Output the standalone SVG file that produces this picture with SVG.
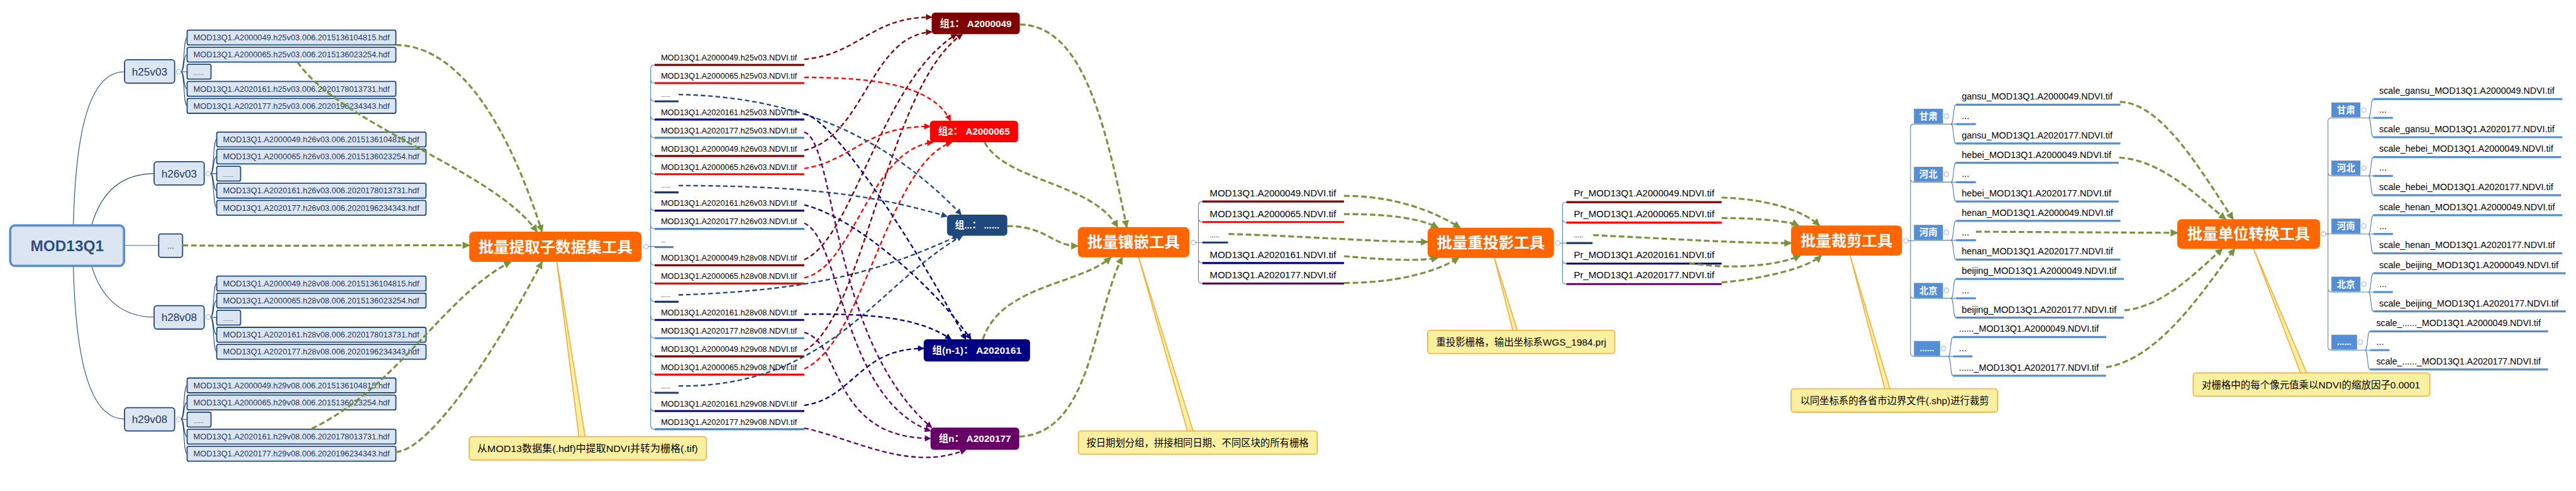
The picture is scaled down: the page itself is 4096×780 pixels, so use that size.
<svg xmlns="http://www.w3.org/2000/svg" width="4096" height="780" viewBox="0 0 4096 780">
<defs>
<style>
.fb{fill:#dce6f2;stroke:#1f497d;stroke-width:2}
.ft{font-family:"Liberation Sans",Arial,sans-serif;font-size:14px;fill:#1f3864}
.nt{font-family:"Liberation Sans",Arial,sans-serif;font-size:19px;fill:#1f3864;text-anchor:middle}
.tool{fill:#ff6600}
.tt{font-family:"Noto Sans CJK SC",sans-serif;font-weight:bold;font-size:27px;fill:#fff;text-anchor:middle}
.call{fill:#fbf0a0;stroke:#f0b44c;stroke-width:2}
.ct{font-family:"Liberation Sans","Noto Sans CJK SC",sans-serif;font-size:17px;fill:#000}
.g{fill:none;stroke:#77933c;stroke-width:3.5;stroke-dasharray:10 5;marker-end:url(#ag)}
.lt{font-family:"Liberation Sans",Arial,sans-serif;font-size:14px;fill:#000}
.lt2{font-family:"Liberation Sans",Arial,sans-serif;font-size:16px;fill:#000}
.pb{fill:#558ed5}
.pt{font-family:"Noto Sans CJK SC",sans-serif;font-weight:bold;font-size:16px;fill:#fff;text-anchor:middle}
.gt{font-family:"Liberation Sans","Noto Sans CJK SC",sans-serif;font-weight:bold;font-size:17px;fill:#fff;text-anchor:middle}
.br{fill:none;stroke:#4f81bd;stroke-width:1.2}
.tl{fill:none;stroke:#1f497d;stroke-width:1.2}
.cc{fill:#fff;stroke:#9db3d9;stroke-width:1.2}
.u{stroke-width:3.5;fill:none}
.dr{stroke:#7f0000}.rd{stroke:#ff0000}.db{stroke:#1f3864}.nv{stroke:#000080}.lb{stroke:#4f81bd}.pu{stroke:#660066}.pbu{stroke:#558ed5}
.c{fill:none;stroke-width:2.6;stroke-dasharray:8 5}
</style>
<marker id="ag" viewBox="0 0 10 10" refX="9" refY="5" markerWidth="15" markerHeight="13" markerUnits="userSpaceOnUse" orient="auto"><path d="M0,0 L10,5 L0,10 z" fill="#77933c"/></marker>
<marker id="adr" viewBox="0 0 10 10" refX="9" refY="5" markerWidth="12" markerHeight="11" markerUnits="userSpaceOnUse" orient="auto"><path d="M0,0 L10,5 L0,10 z" fill="#7f0000"/></marker>
<marker id="ard" viewBox="0 0 10 10" refX="9" refY="5" markerWidth="12" markerHeight="11" markerUnits="userSpaceOnUse" orient="auto"><path d="M0,0 L10,5 L0,10 z" fill="#ff0000"/></marker>
<marker id="adb" viewBox="0 0 10 10" refX="9" refY="5" markerWidth="12" markerHeight="11" markerUnits="userSpaceOnUse" orient="auto"><path d="M0,0 L10,5 L0,10 z" fill="#1f497d"/></marker>
<marker id="anv" viewBox="0 0 10 10" refX="9" refY="5" markerWidth="12" markerHeight="11" markerUnits="userSpaceOnUse" orient="auto"><path d="M0,0 L10,5 L0,10 z" fill="#000080"/></marker>
<marker id="apu" viewBox="0 0 10 10" refX="9" refY="5" markerWidth="12" markerHeight="11" markerUnits="userSpaceOnUse" orient="auto"><path d="M0,0 L10,5 L0,10 z" fill="#660066"/></marker>
</defs>
<rect width="4096" height="780" fill="#fff"/>
<g transform="scale(0.90439)">

<!-- tree lines left -->
<g id="tree-left">
<path class="tl" d="M129,396 C133,220 160,126 219,126"/>
<path class="tl" d="M161,396 C180,330 220,305 271,305"/>
<path class="tl" d="M218,431 L279,431" style="stroke:#8eaadb;stroke-width:2"/>
<path class="tl" d="M161,467 C180,530 220,557 271,557"/>
<path class="tl" d="M129,467 C133,640 160,736 219,736"/>
<path class="tl" d="M318,126 C325,126 322,66 329,66 M318,126 C325,126 322,96 329,96 M318,126 L329,126 M318,126 C325,126 322,156 329,156 M318,126 C325,126 322,186 329,186"/>
<path class="tl" d="M370,305 C377,305 374,245 381,245 M370,305 C377,305 374,275 381,275 M370,305 L381,305 M370,305 C377,305 374,335 381,335 M370,305 C377,305 374,365 381,365"/>
<path class="tl" d="M370,557 C377,557 374,498 381,498 M370,557 C377,557 374,528 381,528 M370,557 L381,558 M370,557 C377,557 374,588 381,588 M370,557 C377,557 374,618 381,618"/>
<path class="tl" d="M318,736 C325,736 322,677 329,677 M318,736 C325,736 322,707 329,707 M318,736 L329,737 M318,736 C325,736 322,767 329,767 M318,736 C325,736 322,797 329,797"/>
<circle class="cc" cx="314" cy="126" r="4"/><circle class="cc" cx="366" cy="305" r="4"/><circle class="cc" cx="366" cy="557" r="4"/><circle class="cc" cx="314" cy="736" r="4"/>
</g>

<g id="root">
<rect x="18" y="396" width="200" height="71" rx="8" fill="#dce6f2" stroke="#5b8ed6" stroke-width="4"/>
<text x="118" y="441" font-family="Liberation Sans,Arial,sans-serif" font-weight="bold" font-size="27" fill="#2f4f7f" text-anchor="middle">MOD13Q1</text>
</g>
<g id="n-etc"><rect class="fb" x="279" y="411" width="42" height="41" rx="4"/><text x="300" y="437" class="nt" style="font-size:14px">...</text></g>

<g id="n-h25v03">
<rect class="fb" x="219" y="105" width="88" height="41" rx="5"/><text class="nt" x="263" y="133">h25v03</text>
<rect class="fb" x="329" y="53" width="367" height="26" rx="3"/><text class="ft" x="340" y="71" textLength="345" lengthAdjust="spacingAndGlyphs">MOD13Q1.A2000049.h25v03.006.2015136104815.hdf</text>
<rect class="fb" x="329" y="83" width="367" height="26" rx="3"/><text class="ft" x="340" y="101" textLength="345" lengthAdjust="spacingAndGlyphs">MOD13Q1.A2000065.h25v03.006.2015136023254.hdf</text>
<rect class="fb" x="329" y="113" width="42" height="26" rx="3"/><text class="ft" x="340" y="132" style="font-size:11px">......</text>
<rect class="fb" x="329" y="143" width="367" height="26" rx="3"/><text class="ft" x="340" y="161" textLength="345" lengthAdjust="spacingAndGlyphs">MOD13Q1.A2020161.h25v03.006.2020178013731.hdf</text>
<rect class="fb" x="329" y="173" width="367" height="26" rx="3"/><text class="ft" x="340" y="191" textLength="345" lengthAdjust="spacingAndGlyphs">MOD13Q1.A2020177.h25v03.006.2020196234343.hdf</text>
</g>
<g id="n-h26v03">
<rect class="fb" x="271" y="284" width="88" height="41" rx="5"/><text class="nt" x="315" y="312">h26v03</text>
<rect class="fb" x="381" y="232" width="368" height="26" rx="3"/><text class="ft" x="392" y="250" textLength="345" lengthAdjust="spacingAndGlyphs">MOD13Q1.A2000049.h26v03.006.2015136104815.hdf</text>
<rect class="fb" x="381" y="262" width="368" height="26" rx="3"/><text class="ft" x="392" y="280" textLength="345" lengthAdjust="spacingAndGlyphs">MOD13Q1.A2000065.h26v03.006.2015136023254.hdf</text>
<rect class="fb" x="381" y="292" width="42" height="26" rx="3"/><text class="ft" x="392" y="311" style="font-size:11px">......</text>
<rect class="fb" x="381" y="322" width="368" height="26" rx="3"/><text class="ft" x="392" y="340" textLength="345" lengthAdjust="spacingAndGlyphs">MOD13Q1.A2020161.h26v03.006.2020178013731.hdf</text>
<rect class="fb" x="381" y="352" width="368" height="26" rx="3"/><text class="ft" x="392" y="370" textLength="345" lengthAdjust="spacingAndGlyphs">MOD13Q1.A2020177.h26v03.006.2020196234343.hdf</text>
</g>
<g id="n-h28v08">
<rect class="fb" x="271" y="537" width="88" height="41" rx="5"/><text class="nt" x="315" y="564">h28v08</text>
<rect class="fb" x="381" y="485" width="368" height="26" rx="3"/><text class="ft" x="392" y="503" textLength="345" lengthAdjust="spacingAndGlyphs">MOD13Q1.A2000049.h28v08.006.2015136104815.hdf</text>
<rect class="fb" x="381" y="515" width="368" height="26" rx="3"/><text class="ft" x="392" y="533" textLength="345" lengthAdjust="spacingAndGlyphs">MOD13Q1.A2000065.h28v08.006.2015136023254.hdf</text>
<rect class="fb" x="381" y="545" width="42" height="26" rx="3"/><text class="ft" x="392" y="564" style="font-size:11px">......</text>
<rect class="fb" x="381" y="575" width="368" height="26" rx="3"/><text class="ft" x="392" y="593" textLength="345" lengthAdjust="spacingAndGlyphs">MOD13Q1.A2020161.h28v08.006.2020178013731.hdf</text>
<rect class="fb" x="381" y="605" width="368" height="26" rx="3"/><text class="ft" x="392" y="623" textLength="345" lengthAdjust="spacingAndGlyphs">MOD13Q1.A2020177.h28v08.006.2020196234343.hdf</text>
</g>
<g id="n-h29v08">
<rect class="fb" x="219" y="716" width="88" height="41" rx="5"/><text class="nt" x="263" y="743">h29v08</text>
<rect class="fb" x="329" y="664" width="367" height="26" rx="3"/><text class="ft" x="340" y="682" textLength="345" lengthAdjust="spacingAndGlyphs">MOD13Q1.A2000049.h29v08.006.2015136104815.hdf</text>
<rect class="fb" x="329" y="694" width="367" height="26" rx="3"/><text class="ft" x="340" y="712" textLength="345" lengthAdjust="spacingAndGlyphs">MOD13Q1.A2000065.h29v08.006.2015136023254.hdf</text>
<rect class="fb" x="329" y="724" width="42" height="26" rx="3"/><text class="ft" x="340" y="743" style="font-size:11px">......</text>
<rect class="fb" x="329" y="754" width="367" height="26" rx="3"/><text class="ft" x="340" y="772" textLength="345" lengthAdjust="spacingAndGlyphs">MOD13Q1.A2020161.h29v08.006.2020178013731.hdf</text>
<rect class="fb" x="329" y="784" width="367" height="26" rx="3"/><text class="ft" x="340" y="802" textLength="345" lengthAdjust="spacingAndGlyphs">MOD13Q1.A2020177.h29v08.006.2020196234343.hdf</text>
</g>

<!-- callout pointers -->
<g id="pointers">
<polygon class="call" points="978,452 1018,768 1029,768"/>
<polygon class="call" points="2000,445 2088,758 2098,758"/>
<polygon class="call" points="2626,448 2660,581 2668,581"/>
<polygon class="call" points="3252,446 3314,684 3323,684"/>
<polygon class="call" points="3961,434 4045,656 4056,656"/>
</g>

<g id="tool1">
<rect class="tool" x="825" y="407" width="303" height="53" rx="8"/>
<text class="tt" x="976.5" y="443" textLength="271" lengthAdjust="spacingAndGlyphs">批量提取子数据集工具</text>
</g>
<g id="note1"><rect class="call" x="825" y="767" width="417" height="41" rx="5"/><text class="ct" x="839" y="794" textLength="388" lengthAdjust="spacingAndGlyphs">从MOD13数据集(.hdf)中提取NDVI并转为栅格(.tif)</text></g>

<g id="list1">
<circle class="cc" cx="1136" cy="433" r="4"/>
<path class="br" d="M1140,433 L1151,433 M1151,114 Q1144,114 1144,121 L1144,747 Q1144,754 1151,754"/>
<path class="br" d="M1144,139 Q1144,146 1151,146 M1144,171 Q1144,178 1151,178 M1144,203 Q1144,210 1151,210 M1144,235 Q1144,242 1151,242 M1144,267 Q1144,274 1151,274 M1144,299 Q1144,306 1151,306 M1144,331 Q1144,338 1151,338 M1144,363 Q1144,370 1151,370 M1144,395 Q1144,402 1151,402 M1144,459 Q1144,466 1151,466 M1144,491 Q1144,498 1151,498 M1144,523 Q1144,530 1151,530 M1144,555 Q1144,562 1151,562 M1144,587 Q1144,594 1151,594 M1144,619 Q1144,626 1151,626 M1144,651 Q1144,658 1151,658 M1144,683 Q1144,690 1151,690 M1144,715 Q1144,722 1151,722"/>
<text class="lt" x="1162" y="106" textLength="239" lengthAdjust="spacingAndGlyphs">MOD13Q1.A2000049.h25v03.NDVI.tif</text><line class="u dr" x1="1151" y1="114" x2="1414" y2="114"/>
<text class="lt" x="1162" y="138" textLength="239" lengthAdjust="spacingAndGlyphs">MOD13Q1.A2000065.h25v03.NDVI.tif</text><line class="u rd" x1="1151" y1="146" x2="1414" y2="146"/>
<text class="lt" x="1162" y="170" style="font-size:10px">......</text><line class="u db" x1="1151" y1="178" x2="1193" y2="178"/>
<text class="lt" x="1162" y="202" textLength="239" lengthAdjust="spacingAndGlyphs">MOD13Q1.A2020161.h25v03.NDVI.tif</text><line class="u nv" x1="1151" y1="210" x2="1414" y2="210"/>
<text class="lt" x="1162" y="234" textLength="239" lengthAdjust="spacingAndGlyphs">MOD13Q1.A2020177.h25v03.NDVI.tif</text><line class="u lb" x1="1151" y1="242" x2="1414" y2="242"/>
<text class="lt" x="1162" y="266" textLength="239" lengthAdjust="spacingAndGlyphs">MOD13Q1.A2000049.h26v03.NDVI.tif</text><line class="u dr" x1="1151" y1="274" x2="1414" y2="274"/>
<text class="lt" x="1162" y="298" textLength="239" lengthAdjust="spacingAndGlyphs">MOD13Q1.A2000065.h26v03.NDVI.tif</text><line class="u rd" x1="1151" y1="306" x2="1414" y2="306"/>
<text class="lt" x="1162" y="330" style="font-size:10px">......</text><line class="u db" x1="1151" y1="338" x2="1193" y2="338"/>
<text class="lt" x="1162" y="362" textLength="239" lengthAdjust="spacingAndGlyphs">MOD13Q1.A2020161.h26v03.NDVI.tif</text><line class="u nv" x1="1151" y1="370" x2="1414" y2="370"/>
<text class="lt" x="1162" y="394" textLength="239" lengthAdjust="spacingAndGlyphs">MOD13Q1.A2020177.h26v03.NDVI.tif</text><line class="u lb" x1="1151" y1="402" x2="1414" y2="402"/>
<text class="lt" x="1162" y="426" style="font-size:10px">...</text><line class="u lb" x1="1151" y1="434" x2="1184" y2="434"/>
<text class="lt" x="1162" y="458" textLength="239" lengthAdjust="spacingAndGlyphs">MOD13Q1.A2000049.h28v08.NDVI.tif</text><line class="u dr" x1="1151" y1="466" x2="1414" y2="466"/>
<text class="lt" x="1162" y="490" textLength="239" lengthAdjust="spacingAndGlyphs">MOD13Q1.A2000065.h28v08.NDVI.tif</text><line class="u rd" x1="1151" y1="498" x2="1414" y2="498"/>
<text class="lt" x="1162" y="522" style="font-size:10px">......</text><line class="u db" x1="1151" y1="530" x2="1193" y2="530"/>
<text class="lt" x="1162" y="554" textLength="239" lengthAdjust="spacingAndGlyphs">MOD13Q1.A2020161.h28v08.NDVI.tif</text><line class="u nv" x1="1151" y1="562" x2="1414" y2="562"/>
<text class="lt" x="1162" y="586" textLength="239" lengthAdjust="spacingAndGlyphs">MOD13Q1.A2020177.h28v08.NDVI.tif</text><line class="u lb" x1="1151" y1="594" x2="1414" y2="594"/>
<text class="lt" x="1162" y="618" textLength="239" lengthAdjust="spacingAndGlyphs">MOD13Q1.A2000049.h29v08.NDVI.tif</text><line class="u dr" x1="1151" y1="626" x2="1414" y2="626"/>
<text class="lt" x="1162" y="650" textLength="239" lengthAdjust="spacingAndGlyphs">MOD13Q1.A2000065.h29v08.NDVI.tif</text><line class="u rd" x1="1151" y1="658" x2="1414" y2="658"/>
<text class="lt" x="1162" y="682" style="font-size:10px">......</text><line class="u db" x1="1151" y1="690" x2="1193" y2="690"/>
<text class="lt" x="1162" y="714" textLength="239" lengthAdjust="spacingAndGlyphs">MOD13Q1.A2020161.h29v08.NDVI.tif</text><line class="u nv" x1="1151" y1="722" x2="1414" y2="722"/>
<text class="lt" x="1162" y="746" textLength="239" lengthAdjust="spacingAndGlyphs">MOD13Q1.A2020177.h29v08.NDVI.tif</text><line class="u lb" x1="1151" y1="754" x2="1414" y2="754"/>
</g>

<g id="grp1"><rect x="1638" y="22" width="155" height="38" rx="6" fill="#7f0000"/><text class="gt" x="1715.5" y="47" textLength="126" lengthAdjust="spacingAndGlyphs">组1： A2000049</text></g>
<g id="grp2"><rect x="1635" y="212" width="155" height="38" rx="6" fill="#ff0000"/><text class="gt" x="1712.5" y="237" textLength="126" lengthAdjust="spacingAndGlyphs">组2： A2000065</text></g>
<g id="grp3"><rect x="1665" y="377" width="106" height="37" rx="6" fill="#1f497d"/><text class="gt" x="1718" y="401" textLength="78" lengthAdjust="spacingAndGlyphs">组...： ......</text></g>
<g id="grp4"><rect x="1624" y="596" width="187" height="39" rx="6" fill="#000080"/><text class="gt" x="1717.5" y="621" textLength="157" lengthAdjust="spacingAndGlyphs">组(n-1)： A2020161</text></g>
<g id="grp5"><rect x="1636" y="751" width="156" height="39" rx="6" fill="#660066"/><text class="gt" x="1714" y="776" textLength="127" lengthAdjust="spacingAndGlyphs">组n： A2020177</text></g>

<g id="tool2">
<rect class="tool" x="1895" y="399" width="196" height="53" rx="8"/>
<text class="tt" x="1993" y="435" textLength="163" lengthAdjust="spacingAndGlyphs">批量镶嵌工具</text>
</g>
<g id="note2"><rect class="call" x="1896" y="757" width="420" height="41" rx="5"/><text class="ct" x="1910" y="784" textLength="391" lengthAdjust="spacingAndGlyphs">按日期划分组，拼接相同日期、不同区块的所有栅格</text></g>
<g id="list2">
<circle class="cc" cx="2098" cy="426" r="4"/>
<path class="br" d="M2102,426 L2114,426 M2114,354 Q2107,354 2107,361 L2107,491 Q2107,498 2114,498 M2107,383 Q2107,390 2114,390 M2107,455 Q2107,462 2114,462"/>
<text class="lt2" x="2127" y="345" textLength="222" lengthAdjust="spacingAndGlyphs">MOD13Q1.A2000049.NDVI.tif</text><line class="u dr" x1="2114" y1="354" x2="2363" y2="354"/>
<text class="lt2" x="2127" y="381" textLength="222" lengthAdjust="spacingAndGlyphs">MOD13Q1.A2000065.NDVI.tif</text><line class="u rd" x1="2114" y1="390" x2="2363" y2="390"/>
<text class="lt2" x="2127" y="417" style="font-size:12px">.....</text><line class="u db" x1="2114" y1="426" x2="2159" y2="426"/>
<text class="lt2" x="2127" y="453" textLength="222" lengthAdjust="spacingAndGlyphs">MOD13Q1.A2020161.NDVI.tif</text><line class="u nv" x1="2114" y1="462" x2="2363" y2="462"/>
<text class="lt2" x="2127" y="489" textLength="222" lengthAdjust="spacingAndGlyphs">MOD13Q1.A2020177.NDVI.tif</text><line class="u pu" x1="2114" y1="498" x2="2363" y2="498"/>
</g>

<g id="tool3">
<rect class="tool" x="2510" y="400" width="222" height="53" rx="8"/>
<text class="tt" x="2621" y="436" textLength="190" lengthAdjust="spacingAndGlyphs">批量重投影工具</text>
</g>
<g id="note3"><rect class="call" x="2510" y="580" width="329" height="41" rx="5"/><text class="ct" x="2525" y="607" textLength="299" lengthAdjust="spacingAndGlyphs">重投影栅格，输出坐标系WGS_1984.prj</text></g>
<g id="list3">
<circle class="cc" cx="2739" cy="427" r="4"/>
<path class="br" d="M2743,427 L2754,427 M2754,355 Q2747,355 2747,362 L2747,492 Q2747,499 2754,499 M2747,384 Q2747,391 2754,391 M2747,456 Q2747,463 2754,463"/>
<text class="lt2" x="2767" y="345" textLength="247" lengthAdjust="spacingAndGlyphs">Pr_MOD13Q1.A2000049.NDVI.tif</text><line class="u dr" x1="2754" y1="355" x2="3027" y2="355"/>
<text class="lt2" x="2767" y="381" textLength="247" lengthAdjust="spacingAndGlyphs">Pr_MOD13Q1.A2000065.NDVI.tif</text><line class="u rd" x1="2754" y1="391" x2="3027" y2="391"/>
<text class="lt2" x="2767" y="417" style="font-size:12px">.....</text><line class="u db" x1="2754" y1="427" x2="2800" y2="427"/>
<text class="lt2" x="2767" y="453" textLength="247" lengthAdjust="spacingAndGlyphs">Pr_MOD13Q1.A2020161.NDVI.tif</text><line class="u nv" x1="2754" y1="463" x2="3027" y2="463"/>
<text class="lt2" x="2767" y="489" textLength="247" lengthAdjust="spacingAndGlyphs">Pr_MOD13Q1.A2020177.NDVI.tif</text><line class="u pu" x1="2754" y1="499" x2="3027" y2="499"/>
</g>

<g id="tool4">
<rect class="tool" x="3149" y="396" width="195" height="53" rx="8"/>
<text class="tt" x="3246.5" y="432" textLength="162" lengthAdjust="spacingAndGlyphs">批量裁剪工具</text>
</g>
<g id="note4"><rect class="call" x="3149" y="683" width="363" height="41" rx="5"/><text class="ct" x="3165" y="710" textLength="332" lengthAdjust="spacingAndGlyphs">以同坐标系的各省市边界文件(.shp)进行裁剪</text></g>
<g id="list4">
<circle class="cc" cx="3351" cy="423" r="4"/>
<path class="br" d="M3355,423 L3365,423 M3365,218 Q3359,218 3359,224 L3359,620 Q3359,626 3365,626 M3359,314 Q3359,320 3365,320 M3359,518 Q3359,524 3365,524"/>
<g id="p4-gansu">
<rect class="pb" x="3365" y="191" width="51" height="26"/><text class="pt" x="3390.5" y="210">甘肃</text>
<circle class="cc" cx="3422" cy="204" r="4"/>
<path class="br" d="M3365,218 L3439,218 M3430,218 C3436,218 3433,184 3439,184 M3430,218 C3436,218 3433,252 3439,252"/>
<text class="lt2" x="3449" y="175" textLength="265" lengthAdjust="spacingAndGlyphs">gansu_MOD13Q1.A2000049.NDVI.tif</text><line class="u pbu" x1="3439" y1="184" x2="3728" y2="184"/>
<text class="lt2" x="3449" y="209">...</text><line class="u pbu" x1="3439" y1="218" x2="3474" y2="218"/>
<text class="lt2" x="3449" y="243" textLength="265" lengthAdjust="spacingAndGlyphs">gansu_MOD13Q1.A2020177.NDVI.tif</text><line class="u pbu" x1="3439" y1="252" x2="3728" y2="252"/>
</g>
<g id="p4-hebei">
<rect class="pb" x="3365" y="293" width="51" height="26"/><text class="pt" x="3390.5" y="312">河北</text>
<circle class="cc" cx="3422" cy="306" r="4"/>
<path class="br" d="M3365,320 L3439,320 M3430,320 C3436,320 3433,286 3439,286 M3430,320 C3436,320 3433,354 3439,354"/>
<text class="lt2" x="3449" y="277" textLength="263" lengthAdjust="spacingAndGlyphs">hebei_MOD13Q1.A2000049.NDVI.tif</text><line class="u pbu" x1="3439" y1="286" x2="3725" y2="286"/>
<text class="lt2" x="3449" y="311">...</text><line class="u pbu" x1="3439" y1="320" x2="3474" y2="320"/>
<text class="lt2" x="3449" y="345" textLength="263" lengthAdjust="spacingAndGlyphs">hebei_MOD13Q1.A2020177.NDVI.tif</text><line class="u pbu" x1="3439" y1="354" x2="3725" y2="354"/>
</g>
<g id="p4-henan">
<rect class="pb" x="3365" y="395" width="51" height="26"/><text class="pt" x="3390.5" y="414">河南</text>
<circle class="cc" cx="3422" cy="408" r="4"/>
<path class="br" d="M3365,422 L3439,422 M3430,422 C3436,422 3433,388 3439,388 M3430,422 C3436,422 3433,456 3439,456"/>
<text class="lt2" x="3449" y="379" textLength="266" lengthAdjust="spacingAndGlyphs">henan_MOD13Q1.A2000049.NDVI.tif</text><line class="u pbu" x1="3439" y1="388" x2="3728" y2="388"/>
<text class="lt2" x="3449" y="413">...</text><line class="u pbu" x1="3439" y1="422" x2="3474" y2="422"/>
<text class="lt2" x="3449" y="447" textLength="266" lengthAdjust="spacingAndGlyphs">henan_MOD13Q1.A2020177.NDVI.tif</text><line class="u pbu" x1="3439" y1="456" x2="3728" y2="456"/>
</g>
<g id="p4-beijing">
<rect class="pb" x="3365" y="497" width="51" height="26"/><text class="pt" x="3390.5" y="516">北京</text>
<circle class="cc" cx="3422" cy="510" r="4"/>
<path class="br" d="M3365,524 L3439,524 M3430,524 C3436,524 3433,490 3439,490 M3430,524 C3436,524 3433,558 3439,558"/>
<text class="lt2" x="3449" y="481" textLength="272" lengthAdjust="spacingAndGlyphs">beijing_MOD13Q1.A2000049.NDVI.tif</text><line class="u pbu" x1="3439" y1="490" x2="3734" y2="490"/>
<text class="lt2" x="3449" y="515">...</text><line class="u pbu" x1="3439" y1="524" x2="3474" y2="524"/>
<text class="lt2" x="3449" y="549" textLength="272" lengthAdjust="spacingAndGlyphs">beijing_MOD13Q1.A2020177.NDVI.tif</text><line class="u pbu" x1="3439" y1="558" x2="3734" y2="558"/>
</g>
<g id="p4-etc">
<rect class="pb" x="3365" y="599" width="46" height="26"/><text class="pt" x="3388" y="617" style="font-size:13px">......</text>
<circle class="cc" cx="3417" cy="612" r="4"/>
<path class="br" d="M3365,626 L3434,626 M3425,626 C3431,626 3428,592 3434,592 M3425,626 C3431,626 3428,660 3434,660"/>
<text class="lt2" x="3444" y="583" textLength="246" lengthAdjust="spacingAndGlyphs">......_MOD13Q1.A2000049.NDVI.tif</text><line class="u pbu" x1="3434" y1="592" x2="3703" y2="592"/>
<text class="lt2" x="3444" y="617">...</text><line class="u pbu" x1="3434" y1="626" x2="3468" y2="626"/>
<text class="lt2" x="3444" y="651" textLength="246" lengthAdjust="spacingAndGlyphs">......_MOD13Q1.A2020177.NDVI.tif</text><line class="u pbu" x1="3434" y1="660" x2="3703" y2="660"/>
</g>
</g>

<g id="tool5">
<rect class="tool" x="3828" y="385" width="251" height="52" rx="8"/>
<text class="tt" x="3953.5" y="420" textLength="216" lengthAdjust="spacingAndGlyphs">批量单位转换工具</text>
</g>
<g id="note5"><rect class="call" x="3856" y="655" width="416" height="41" rx="5"/><text class="ct" x="3871" y="682" textLength="384" lengthAdjust="spacingAndGlyphs">对栅格中的每个像元值乘以NDVI的缩放因子0.0001</text></g>
<g id="list5">
<circle class="cc" cx="4085" cy="411" r="4"/>
<path class="br" d="M4089,411 L4099,411 M4099,207 Q4093,207 4093,213 L4093,609 Q4093,615 4099,615 M4093,303 Q4093,309 4099,309 M4093,507 Q4093,513 4099,513"/>
<g id="p5-gansu">
<rect class="pb" x="4099" y="180" width="51" height="26"/><text class="pt" x="4124.5" y="199">甘肃</text>
<circle class="cc" cx="4156" cy="193" r="4"/>
<path class="br" d="M4099,207 L4173,207 M4164,207 C4170,207 4167,174 4173,174 M4164,207 C4170,207 4167,241 4173,241"/>
<text class="lt2" x="4183" y="165" textLength="308" lengthAdjust="spacingAndGlyphs">scale_gansu_MOD13Q1.A2000049.NDVI.tif</text><line class="u pbu" x1="4173" y1="174" x2="4505" y2="174"/>
<text class="lt2" x="4183" y="198">...</text><line class="u pbu" x1="4173" y1="207" x2="4207" y2="207"/>
<text class="lt2" x="4183" y="232" textLength="308" lengthAdjust="spacingAndGlyphs">scale_gansu_MOD13Q1.A2020177.NDVI.tif</text><line class="u pbu" x1="4173" y1="241" x2="4505" y2="241"/>
</g>
<g id="p5-hebei">
<rect class="pb" x="4099" y="282" width="51" height="26"/><text class="pt" x="4124.5" y="301">河北</text>
<circle class="cc" cx="4156" cy="295" r="4"/>
<path class="br" d="M4099,309 L4173,309 M4164,309 C4170,309 4167,276 4173,276 M4164,309 C4170,309 4167,343 4173,343"/>
<text class="lt2" x="4183" y="267" textLength="306" lengthAdjust="spacingAndGlyphs">scale_hebei_MOD13Q1.A2000049.NDVI.tif</text><line class="u pbu" x1="4173" y1="276" x2="4503" y2="276"/>
<text class="lt2" x="4183" y="300">...</text><line class="u pbu" x1="4173" y1="309" x2="4207" y2="309"/>
<text class="lt2" x="4183" y="334" textLength="306" lengthAdjust="spacingAndGlyphs">scale_hebei_MOD13Q1.A2020177.NDVI.tif</text><line class="u pbu" x1="4173" y1="343" x2="4503" y2="343"/>
</g>
<g id="p5-henan">
<rect class="pb" x="4099" y="384" width="51" height="26"/><text class="pt" x="4124.5" y="403">河南</text>
<circle class="cc" cx="4156" cy="397" r="4"/>
<path class="br" d="M4099,411 L4173,411 M4164,411 C4170,411 4167,378 4173,378 M4164,411 C4170,411 4167,445 4173,445"/>
<text class="lt2" x="4183" y="369" textLength="309" lengthAdjust="spacingAndGlyphs">scale_henan_MOD13Q1.A2000049.NDVI.tif</text><line class="u pbu" x1="4173" y1="378" x2="4505" y2="378"/>
<text class="lt2" x="4183" y="402">...</text><line class="u pbu" x1="4173" y1="411" x2="4207" y2="411"/>
<text class="lt2" x="4183" y="436" textLength="309" lengthAdjust="spacingAndGlyphs">scale_henan_MOD13Q1.A2020177.NDVI.tif</text><line class="u pbu" x1="4173" y1="445" x2="4505" y2="445"/>
</g>
<g id="p5-beijing">
<rect class="pb" x="4099" y="486" width="51" height="26"/><text class="pt" x="4124.5" y="505">北京</text>
<circle class="cc" cx="4156" cy="499" r="4"/>
<path class="br" d="M4099,513 L4173,513 M4164,513 C4170,513 4167,480 4173,480 M4164,513 C4170,513 4167,547 4173,547"/>
<text class="lt2" x="4183" y="471" textLength="315" lengthAdjust="spacingAndGlyphs">scale_beijing_MOD13Q1.A2000049.NDVI.tif</text><line class="u pbu" x1="4173" y1="480" x2="4511" y2="480"/>
<text class="lt2" x="4183" y="504">...</text><line class="u pbu" x1="4173" y1="513" x2="4207" y2="513"/>
<text class="lt2" x="4183" y="538" textLength="315" lengthAdjust="spacingAndGlyphs">scale_beijing_MOD13Q1.A2020177.NDVI.tif</text><line class="u pbu" x1="4173" y1="547" x2="4511" y2="547"/>
</g>
<g id="p5-etc">
<rect class="pb" x="4099" y="588" width="45" height="26"/><text class="pt" x="4121.5" y="606" style="font-size:13px">......</text>
<circle class="cc" cx="4150" cy="601" r="4"/>
<path class="br" d="M4099,615 L4167,615 M4158,615 C4164,615 4161,582 4167,582 M4158,615 C4164,615 4161,649 4167,649"/>
<text class="lt2" x="4178" y="573" textLength="289" lengthAdjust="spacingAndGlyphs">scale_......_MOD13Q1.A2000049.NDVI.tif</text><line class="u pbu" x1="4167" y1="582" x2="4480" y2="582"/>
<text class="lt2" x="4178" y="606">...</text><line class="u pbu" x1="4167" y1="615" x2="4201" y2="615"/>
<text class="lt2" x="4178" y="640" textLength="289" lengthAdjust="spacingAndGlyphs">scale_......_MOD13Q1.A2020177.NDVI.tif</text><line class="u pbu" x1="4167" y1="649" x2="4480" y2="649"/>
</g>
</g>

<g id="connectors">
<!-- hdf -> tool1 -->
<path class="g" d="M696,79 C790,80 880,180 953,407"/>
<path class="g" d="M523,109 C600,220 870,300 944,407"/>
<path class="g" d="M321,431 C500,433 700,430 825,431"/>
<path class="g" d="M548,753 C700,680 780,520 898,460"/>
<path class="g" d="M696,794 C760,790 880,600 953,460"/>
<!-- list1 -> groups -->
<g class="c dr" style="marker-end:url(#adr)">
<path class="c dr" d="M1414,104 C1510,96 1530,30 1638,30"/>
<path class="c dr" d="M1414,264 C1520,240 1530,62 1638,56"/>
<path class="c dr" d="M1414,456 C1500,420 1550,140 1682,60"/>
<path class="c dr" d="M1414,616 C1520,560 1560,150 1692,60"/>
</g>
<g style="marker-end:url(#ard)">
<path class="c rd" d="M1414,136 C1540,136 1640,150 1671,212"/>
<path class="c rd" d="M1414,296 C1500,282 1520,222 1635,222"/>
<path class="c rd" d="M1414,488 C1500,470 1530,262 1640,250"/>
<path class="c rd" d="M1414,648 C1520,600 1560,290 1673,250"/>
</g>
<g style="marker-end:url(#adb)">
<path class="c" stroke="#1f497d" d="M1193,166 C1400,170 1560,240 1690,377"/>
<path class="c" stroke="#1f497d" d="M1193,326 C1450,326 1560,350 1665,380"/>
<path class="c" stroke="#1f497d" d="M1193,518 C1450,510 1560,470 1685,414"/>
<path class="c" stroke="#1f497d" d="M1193,678 C1460,680 1540,500 1692,414"/>
</g>
<g style="marker-end:url(#anv)">
<path class="c nv" d="M1414,200 C1470,210 1620,450 1698,596"/>
<path class="c nv" d="M1414,360 C1500,380 1640,500 1707,596"/>
<path class="c nv" d="M1414,552 C1540,550 1620,560 1672,596"/>
<path class="c nv" d="M1414,712 C1500,700 1510,612 1624,612"/>
</g>
<g style="marker-end:url(#apu)">
<path class="c pu" d="M1414,232 C1470,250 1460,600 1638,751"/>
<path class="c pu" d="M1414,392 C1480,420 1480,700 1636,757"/>
<path class="c pu" d="M1414,584 C1480,600 1460,770 1636,770"/>
<path class="c pu" d="M1414,752 C1500,770 1600,830 1698,790"/>
</g>
<!-- groups -> tool2 -->
<path class="g" d="M1793,43 C1900,45 1940,200 1981,399"/>
<path class="g" d="M1731,250 C1770,320 1920,320 1965,399"/>
<path class="g" d="M1771,397 C1840,397 1850,432 1895,432"/>
<path class="g" d="M1728,596 C1760,500 1900,500 1953,452"/>
<path class="g" d="M1792,767 C1920,760 1920,560 1973,452"/>
<!-- list2 -> tool3 -->
<path class="g" d="M2363,344 C2450,344 2520,370 2567,400"/>
<path class="g" d="M2363,376 C2450,376 2500,385 2528,400"/>
<path class="g" d="M2160,411 C2300,415 2420,425 2510,425"/>
<path class="g" d="M2363,450 C2450,458 2500,458 2528,453"/>
<path class="g" d="M2363,497 C2450,497 2520,480 2565,453"/>
<!-- list3 -> tool4 -->
<path class="g" d="M3027,347 C3110,350 3170,370 3199,396"/>
<path class="g" d="M3027,383 C3100,383 3150,390 3162,396"/>
<path class="g" d="M2801,413 C2950,420 3050,427 3149,427"/>
<path class="g" d="M2970,462 C3050,475 3130,465 3165,449"/>
<path class="g" d="M3027,496 C3100,490 3180,470 3202,449"/>
<!-- list4 -> tool5 -->
<path class="g" d="M3727,179 C3800,180 3870,300 3926,385"/>
<path class="g" d="M3726,277 C3800,280 3870,350 3913,385"/>
<path class="g" d="M3474,407 L3828,409"/>
<path class="g" d="M3735,545 C3800,540 3860,480 3907,437"/>
<path class="g" d="M3703,645 C3800,630 3880,500 3929,437"/>
</g>
</g>
</svg>
